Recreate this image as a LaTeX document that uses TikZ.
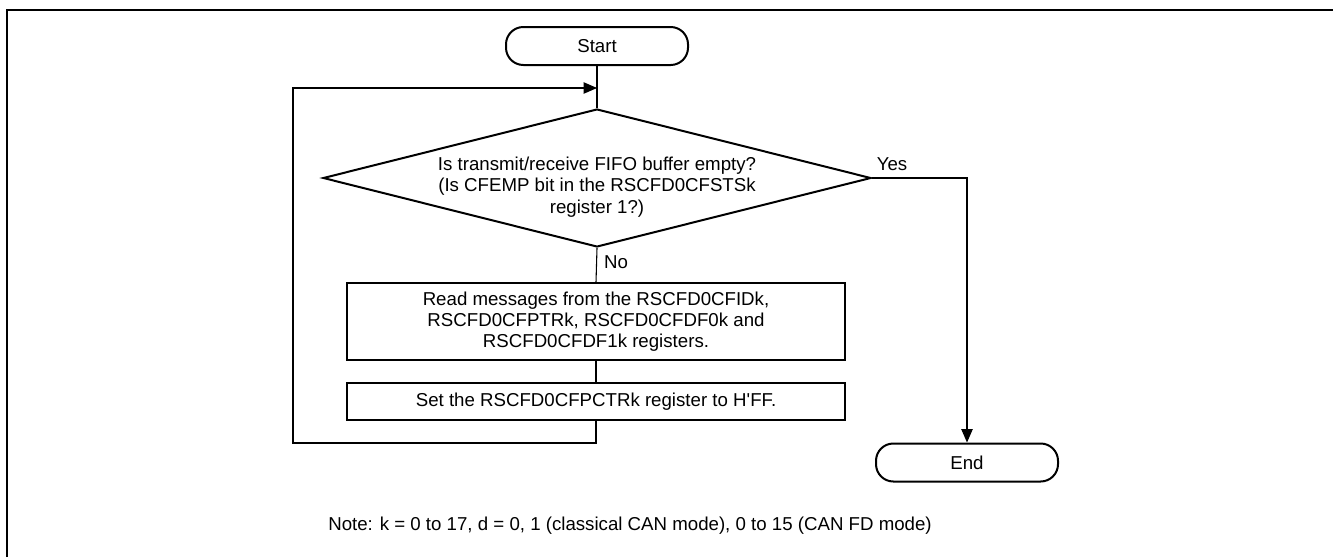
\documentclass[tikz,border=0pt]{standalone}
\usepackage{fontspec}
\setmainfont{Liberation Sans}
\usetikzlibrary{shapes.geometric,arrows.meta}

\begin{document}
\begin{tikzpicture}[x=0.75pt,y=-0.75pt,
        every node/.style={font=\fontsize{14}{16}\selectfont},
        term/.style={draw,line width=1.5pt,rounded corners=13pt,minimum width=136.5pt,minimum height=28.5pt},
        proc/.style={draw,line width=1.5pt,minimum width=373.5pt,align=center,inner sep=0pt},
        dec/.style={draw,diamond,line width=1.5pt,aspect=3.97,minimum width=411pt,minimum height=103.5pt,inner sep=0pt},
        line/.style={line width=0.8pt},
        arr/.style={line,-{Triangle[length=10pt,width=8.5pt]}}]
        \useasboundingbox (0,0) rectangle (1333,557);
        \draw[line width=1.5pt] (7,557) -- (7,10) -- (1333,10);
        \node[term] (start) at (597,46) {Start};
        \node[dec] (isempty) at (597,178) {};
        \node[align=center] (isemptytxt) at (597,187) {Is transmit/receive FIFO buffer empty?\\(Is CFEMP bit in the RSCFD0CFSTSk\\register 1?)};
        \node[proc,minimum height=57.75pt] (readmsg) at (596,321.5) {Read messages from the RSCFD0CFIDk,\\RSCFD0CFPTRk, RSCFD0CFDF0k and\\RSCFD0CFDF1k registers.};
        \node[proc,minimum height=27.75pt] (setptr) at (596,401.5) {Set the RSCFD0CFPCTRk register to H\textquotesingle FF.};
        \node[term] (end) at (967,462.5) {End};
        \node (yes) at (892,164) {Yes};
        \node (no) at (616,262) {No};
        \node (note) at (630,526) {Note: k = 0 to 17, d = 0, 1 (classical CAN mode), 0 to 15 (CAN FD mode)};
        \coordinate (merge) at (597,88);
        \coordinate (loopbot) at (293,443);
        \draw[line] (start.south) -- (isempty.north);
        \draw[line] (isempty.south) -- (readmsg.north);
        \draw[line] (readmsg.south) -- (setptr.north);
        \draw[arr] (setptr.south) |- (loopbot) |- (merge);
        \draw[arr] (isempty.east) -| (end.north);
    \end{tikzpicture}
\end{document}
